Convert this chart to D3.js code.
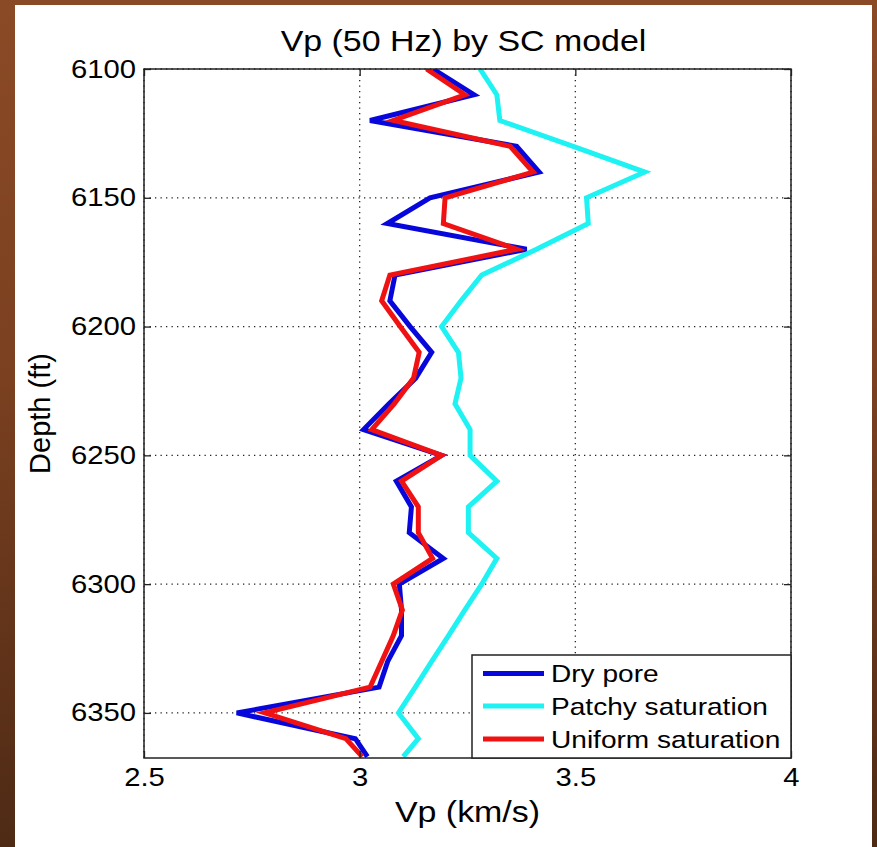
<!DOCTYPE html>
<html>
<head>
<meta charset="utf-8">
<script src="https://cdn.jsdelivr.net/npm/d3@7"></script>
<style>
  html, body { margin: 0; padding: 0; }
  body {
    width: 877px; height: 847px; overflow: hidden;
    background: linear-gradient(to bottom, #8b4a26 0%, #7a4020 45%, #4e2a15 100%);
  }
  svg { display: block; }
  text { font-family: "Liberation Sans", Arial, Helvetica, sans-serif; fill: #000; }
</style>
</head>
<body>
<svg id="chart" width="877" height="847"></svg>
<script>
// Depth samples (ft) and P-wave velocity (km/s) for each rock-physics case
const depth = [6100, 6110, 6120, 6130, 6140, 6150, 6160, 6170, 6180, 6190,
               6200, 6210, 6220, 6230, 6240, 6250, 6260, 6270, 6280, 6290,
               6300, 6310, 6320, 6330, 6340, 6350, 6360, 6367];

const dryPore = [3.170, 3.265, 3.024, 3.364, 3.416, 3.163, 3.064, 3.387, 3.082, 3.070,
                 3.117, 3.167, 3.130, 3.068, 3.009, 3.190, 3.085, 3.120, 3.115, 3.194,
                 3.092, 3.097, 3.097, 3.065, 3.045, 2.715, 2.990, 3.018];

const patchySat = [3.279, 3.318, 3.325, 3.495, 3.661, 3.526, 3.530, 3.410, 3.283, 3.235,
                   3.190, 3.229, 3.235, 3.221, 3.256, 3.256, 3.318, 3.252, 3.252, 3.318,
                   3.283, 3.244, 3.206, 3.167, 3.129, 3.090, 3.136, 3.101];

const uniformSat = [3.155, 3.244, 3.078, 3.349, 3.402, 3.198, 3.194, 3.364, 3.070, 3.051,
                    3.094, 3.138, 3.125, 3.080, 3.028, 3.190, 3.097, 3.136, 3.136, 3.169,
                    3.078, 3.099, 3.078, 3.051, 3.024, 2.780, 2.968, 3.006];

const seriesNames = ["Dry pore", "Patchy saturation", "Uniform saturation"];
const seriesColors = ["#0707dc", "#1ef2f2", "#f01212"];

const xTicks = [2.5, 3, 3.5, 4];
const xTickLabels = ["2.5", "3", "3.5", "4"];
const yTicks = [6100, 6150, 6200, 6250, 6300, 6350];
const yTickLabels = ["6100", "6150", "6200", "6250", "6300", "6350"];

const titleText = "Vp (50 Hz) by SC model";
const xLabelText = "Vp (km/s)";
const yLabelText = "Depth (ft)";

// ---- layout ----
const svg = d3.select("#chart");
const plot = { left: 144, right: 791, top: 69, bottom: 758 };
const stretch = 1.17;   // glyphs are drawn slightly wide

// white figure panel
svg.append("rect")
  .attr("x", 15).attr("y", 5).attr("width", 857).attr("height", 842)
  .attr("fill", "#ffffff");

const x = d3.scaleLinear().domain([2.5, 4]).range([plot.left, plot.right]);
const y = d3.scaleLinear().domain([6100, 6367.5]).range([plot.top, plot.bottom]);

// plot background
svg.append("rect")
  .attr("x", plot.left).attr("y", plot.top)
  .attr("width", plot.right - plot.left).attr("height", plot.bottom - plot.top)
  .attr("fill", "#ffffff");

// dotted grid
const grid = svg.append("g").attr("stroke", "#222").attr("stroke-width", 1.3)
  .attr("stroke-dasharray", "1.3,4.2");
grid.selectAll("line.vx").data(xTicks).join("line")
  .attr("x1", d => x(d)).attr("x2", d => x(d))
  .attr("y1", plot.top).attr("y2", plot.bottom);
grid.selectAll("line.hy").data(yTicks).join("line")
  .attr("x1", plot.left).attr("x2", plot.right)
  .attr("y1", d => y(d)).attr("y2", d => y(d));

// clip for the curves
svg.append("clipPath").attr("id", "plotClip")
  .append("rect")
  .attr("x", plot.left).attr("y", plot.top)
  .attr("width", plot.right - plot.left).attr("height", plot.bottom - plot.top);

const line = d3.line().x(d => x(d[0])).y(d => y(d[1]));
const seriesValues = [dryPore, patchySat, uniformSat];

const curves = svg.append("g").attr("clip-path", "url(#plotClip)");
seriesValues.forEach((vals, i) => {
  curves.append("path")
    .datum(vals.map((v, k) => [v, depth[k]]))
    .attr("d", line)
    .attr("fill", "none")
    .attr("stroke", seriesColors[i])
    .attr("stroke-width", 5)
    .attr("stroke-linejoin", "miter");
});

// axes (ticks point inward, labels on left and bottom)
const axisStyle = g => {
  g.select(".domain").remove();
  g.selectAll(".tick line").attr("stroke", "#222").attr("stroke-width", 1.3);
  g.selectAll(".tick text")
    .style("font-family", "'Liberation Sans', Arial, sans-serif")
    .attr("fill", "#000");
};

svg.append("g")
  .attr("transform", `translate(0,${plot.bottom})`)
  .call(d3.axisBottom(x).tickValues(xTicks).tickFormat((d, i) => xTickLabels[i])
        .tickSizeInner(-7))
  .call(axisStyle)
  .call(g => g.selectAll(".tick text")
    .attr("font-size", 25).attr("y", 0).attr("dy", 0)
    .attr("transform", `translate(0,28) scale(${stretch},1)`));

svg.append("g")
  .attr("transform", `translate(0,${plot.top})`)
  .call(d3.axisTop(x).tickValues(xTicks).tickFormat("").tickSizeInner(-7))
  .call(axisStyle);

svg.append("g")
  .attr("transform", `translate(${plot.left},0)`)
  .call(d3.axisLeft(y).tickValues(yTicks).tickFormat((d, i) => yTickLabels[i])
        .tickSizeInner(-7))
  .call(axisStyle)
  .call(g => g.selectAll(".tick text")
    .attr("font-size", 25).attr("x", 0)
    .attr("transform", `translate(-8,0) scale(${stretch},1)`));

svg.append("g")
  .attr("transform", `translate(${plot.right},0)`)
  .call(d3.axisRight(y).tickValues(yTicks).tickFormat("").tickSizeInner(-7))
  .call(axisStyle);

// axes box
svg.append("rect")
  .attr("x", plot.left).attr("y", plot.top)
  .attr("width", plot.right - plot.left).attr("height", plot.bottom - plot.top)
  .attr("fill", "none").attr("stroke", "#222").attr("stroke-width", 1.5);

// title and axis labels
svg.append("text")
  .attr("transform", `translate(${(plot.left + plot.right) / 2 - 4},51) scale(${stretch},1)`)
  .attr("text-anchor", "middle").attr("font-size", 29)
  .text(titleText);

svg.append("text")
  .attr("transform", `translate(${(plot.left + plot.right) / 2},822) scale(${stretch},1)`)
  .attr("text-anchor", "middle").attr("font-size", 29)
  .text(xLabelText);

svg.append("text")
  .attr("transform", `translate(50,${(plot.top + plot.bottom) / 2}) rotate(-90)`)
  .attr("text-anchor", "middle").attr("font-size", 29)
  .text(yLabelText);

// legend
const legend = { left: 472, top: 655, right: plot.right, bottom: plot.bottom };
svg.append("rect")
  .attr("x", legend.left).attr("y", legend.top)
  .attr("width", legend.right - legend.left).attr("height", legend.bottom - legend.top)
  .attr("fill", "#ffffff").attr("stroke", "#222").attr("stroke-width", 1.5);

const rowY = [673.5, 706, 739];
const lg = svg.append("g");
seriesNames.forEach((name, i) => {
  lg.append("line")
    .attr("x1", 483).attr("x2", 544)
    .attr("y1", rowY[i]).attr("y2", rowY[i])
    .attr("stroke", seriesColors[i]).attr("stroke-width", 5);
  lg.append("text")
    .attr("transform", `translate(551,${rowY[i]}) scale(${stretch},1)`)
    .attr("dy", "0.36em")
    .attr("font-size", 24)
    .text(name);
});
</script>
</body>
</html>
